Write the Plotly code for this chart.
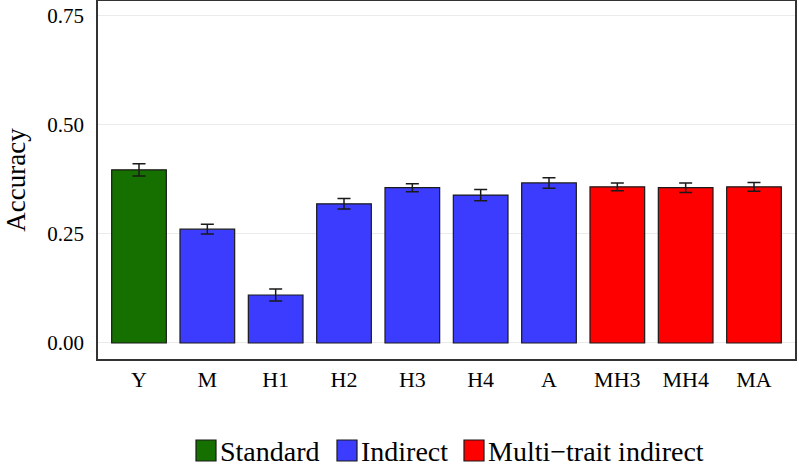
import plotly.graph_objects as go

categories = ["Y", "M", "H1", "H2", "H3", "H4", "A", "MH3", "MH4", "MA"]
accuracy = [0.397, 0.261, 0.110, 0.319, 0.356, 0.339, 0.367, 0.358, 0.356, 0.358]
errors = [0.014, 0.011, 0.014, 0.012, 0.009, 0.013, 0.012, 0.009, 0.011, 0.010]
groups = ["Standard", "Indirect", "Indirect", "Indirect", "Indirect", "Indirect", "Indirect",
          "Multi\u2212trait indirect", "Multi\u2212trait indirect", "Multi\u2212trait indirect"]
group_names = ["Standard", "Indirect", "Multi\u2212trait indirect"]
group_colors = {"Standard": "#157000", "Indirect": "#3c3cff", "Multi\u2212trait indirect": "#ff0000"}
y_ticks = [0.0, 0.25, 0.5, 0.75]
y_tick_labels = ["0.00", "0.25", "0.50", "0.75"]

font = "Liberation Serif"
W, H = 799, 468
L, R, T, B = 98, 4, 1, 109
pw, ph = W - L - R, H - T - B

def px_x(p):
    return (p - L) / pw

def px_y(p):
    return (H - B - p) / ph

fig = go.Figure()
fig.add_trace(go.Bar(
    x=categories, y=accuracy,
    marker=dict(color=[group_colors[g] for g in groups], line=dict(color="#1a1a1a", width=1.2)),
    error_y=dict(type="data", array=errors, visible=True, color="#1a1a1a", thickness=1.5, width=6.5),
    showlegend=False,
))

# manual legend (layout-level decoration)
legend_left = [196, 337, 464]
shapes, annots = [], []
for g, x0 in zip(group_names, legend_left):
    shapes.append(dict(type="rect", xref="paper", yref="paper",
                       x0=px_x(x0), x1=px_x(x0 + 20), y0=px_y(461), y1=px_y(440),
                       fillcolor=group_colors[g], line=dict(color="#1a1a1a", width=1.2)))
    annots.append(dict(xref="paper", yref="paper", x=px_x(x0 + 22), y=px_y(451), text=g,
                       showarrow=False, xanchor="left", yanchor="middle",
                       font=dict(family=font, size=28, color="black")))

fig.update_layout(
    width=W, height=H,
    margin=dict(l=L, r=R, t=T, b=B, autoexpand=False),
    plot_bgcolor="white", paper_bgcolor="white",
    bargap=0.2,
    showlegend=False,
    shapes=shapes, annotations=annots,
    font=dict(family=font, color="black"),
    xaxis=dict(categoryorder="array", categoryarray=categories, range=[-0.6, 9.6],
               showline=True, mirror=True,
               linecolor="#333333", linewidth=1.5, ticks="", tickfont=dict(size=22, family=font),
               showgrid=False, ticklabelstandoff=0),
    yaxis=dict(range=[-0.0367, 0.784], tickvals=y_ticks, ticktext=y_tick_labels, showline=True,
               mirror=True, linecolor="#333333", linewidth=1.5, gridcolor="#ebebeb", gridwidth=1,
               zeroline=False, ticks="", tickfont=dict(size=21, family=font), ticklabelstandoff=8,
               title=dict(text="Accuracy", font=dict(size=27, family=font), standoff=14)),
)
fig.write_html("out.html", config={"displayModeBar": False},
               post_script="document.body.style.margin='0';document.body.style.padding='0';")
